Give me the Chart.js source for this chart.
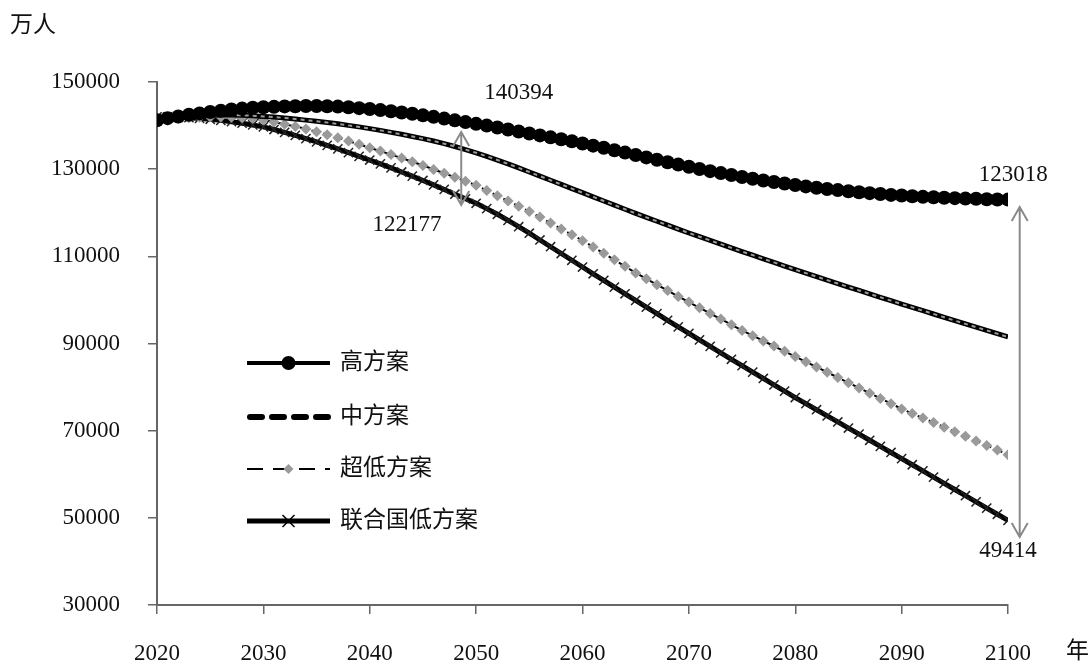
<!DOCTYPE html>
<html>
<head>
<meta charset="utf-8">
<script src="https://cdn.jsdelivr.net/npm/chart.js@4"></script>
<style>
  html, body { margin: 0; padding: 0; background: #fff; }
  #wrap { width: 1092px; height: 664px; }
</style>
</head>
<body>
<div id="wrap"><canvas id="chart" width="1092" height="664"></canvas></div>
<script>
// 人口预测 2020-2100，单位：万人
const years = [2020,2021,2022,2023,2024,2025,2026,2027,2028,2029,
  2030,2031,2032,2033,2034,2035,2036,2037,2038,2039,
  2040,2041,2042,2043,2044,2045,2046,2047,2048,2049,
  2050,2051,2052,2053,2054,2055,2056,2057,2058,2059,
  2060,2061,2062,2063,2064,2065,2066,2067,2068,2069,
  2070,2071,2072,2073,2074,2075,2076,2077,2078,2079,
  2080,2081,2082,2083,2084,2085,2086,2087,2088,2089,
  2090,2091,2092,2093,2094,2095,2096,2097,2098,2099,
  2100];

const seriesNames = ['高方案', '中方案', '超低方案', '联合国低方案'];

const high = [141200,141700,142100,142500,142800,143100,143400,143700,143900,144100,
  144200,144300,144400,144450,144500,144500,144450,144350,144200,144000,
  143800,143550,143300,143000,142700,142350,142000,141600,141200,140800,
  140394,140000,139550,139100,138650,138200,137750,137300,136850,136400,
  135900,135400,134900,134350,133800,133250,132700,132150,131600,131050,
  130550,130050,129550,129100,128650,128200,127800,127400,127050,126700,
  126350,126050,125750,125450,125200,124950,124700,124500,124300,124100,
  123950,123800,123650,123550,123450,123350,123250,123200,123100,123050,
  123018];

const mid = [141200,141600,141900,142100,142250,142350,142400,142400,142350,142250,
  142100,141950,141750,141500,141250,141000,140700,140400,140050,139700,
  139300,138900,138450,138000,137500,137000,136450,135850,135200,134500,
  133750,132950,132100,131200,130300,129350,128400,127450,126500,125550,
  124600,123650,122700,121750,120800,119850,118950,118050,117150,116250,
  115350,114500,113650,112800,111950,111100,110270,109440,108610,107780,
  106950,106150,105350,104550,103750,102950,102170,101390,100610,99830,
  99050,98290,97530,96770,96010,95250,94500,93750,93000,92250,
  91500];

const ultraLow = [141000,141300,141600,141800,141900,141950,141950,141900,141800,141600,
  141300,140800,140300,139800,139200,138600,137900,137200,136450,135700,
  134900,134150,133350,132550,131700,130850,129950,129050,128150,127250,
  126300,125100,123900,122700,121500,120300,119000,117650,116300,114950,
  113600,112150,110700,109200,107700,106200,104850,103500,102150,100800,
  99500,98200,96900,95600,94300,93000,91800,90600,89400,88200,
  87000,85800,84600,83400,82200,81000,79800,78600,77400,76200,
  75000,73950,72900,71850,70800,69750,68700,67650,66600,65550,
  64500];

const unLow = [142000,142000,141900,141800,141650,141450,141200,140900,140550,140150,
  139700,139100,138450,137750,137000,136250,135450,134650,133800,132950,
  132100,131200,130300,129350,128400,127400,126400,125350,124250,123200,
  122177,120950,119650,118250,116800,115300,113750,112200,110650,109100,
  107550,106000,104470,102940,101410,99880,98360,96840,95320,93800,
  92300,90820,89340,87860,86380,84900,83440,81980,80520,79060,
  77600,76200,74800,73400,72000,70600,69200,67800,66400,65000,
  63600,62180,60760,59340,57920,56500,55080,53660,52240,50820,
  49414];

// 标注（数据坐标）
const noteTexts = ['140394', '122177', '123018', '49414'];
const noteYears = [2054, 2043.5, 2100.5, 2100];
const noteValues = [147500, 117200, 128700, 42400];

const arrowYears = [2048.6, 2101.1];
const arrowTops = [138500, 121300];
const arrowBottoms = [121800, 45600];

const FONT = '"Liberation Serif", "Noto Sans CJK SC", serif';

function pts(vals) {
  return years.map((y, i) => ({ x: y, y: vals[i] }));
}

const extras = {
  id: 'extras',
  afterDatasetsDraw(chart) {
    const ctx = chart.ctx;
    const xs = chart.scales.x, ys = chart.scales.y;
    ctx.save();

    // double arrows
    ctx.strokeStyle = '#8a8a8a';
    ctx.lineWidth = 2;
    arrowYears.forEach((yr, i) => {
      const x = xs.getPixelForValue(yr);
      const t = ys.getPixelForValue(arrowTops[i]);
      const b = ys.getPixelForValue(arrowBottoms[i]);
      ctx.beginPath();
      ctx.moveTo(x, t); ctx.lineTo(x, b);
      ctx.moveTo(x - 8, t + 14); ctx.lineTo(x, t); ctx.lineTo(x + 8, t + 14);
      ctx.moveTo(x - 8, b - 14); ctx.lineTo(x, b); ctx.lineTo(x + 8, b - 14);
      ctx.stroke();
    });

    // value labels
    ctx.fillStyle = '#111';
    ctx.font = '23px ' + FONT;
    ctx.textAlign = 'center';
    ctx.textBaseline = 'middle';
    noteTexts.forEach((t, i) => {
      ctx.fillText(t, xs.getPixelForValue(noteYears[i]), ys.getPixelForValue(noteValues[i]));
    });

    // legend inside plot
    const lx0 = 247, lx1 = 330, rows = [363, 417, 469, 521];
    const mx = (lx0 + lx1) / 2;
    ctx.strokeStyle = '#000';
    ctx.lineCap = 'butt';

    ctx.lineWidth = 4;
    ctx.beginPath(); ctx.moveTo(lx0, rows[0]); ctx.lineTo(lx1, rows[0]); ctx.stroke();
    ctx.fillStyle = '#000';
    ctx.beginPath(); ctx.arc(mx, rows[0], 7, 0, Math.PI * 2); ctx.fill();

    ctx.lineWidth = 6;
    ctx.lineCap = 'round';
    ctx.setLineDash([12, 10]);
    ctx.beginPath(); ctx.moveTo(lx0 + 3, rows[1]); ctx.lineTo(lx1, rows[1]); ctx.stroke();

    ctx.lineWidth = 2;
    ctx.lineCap = 'butt';
    ctx.setLineDash([16, 10]);
    ctx.beginPath(); ctx.moveTo(lx0, rows[2]); ctx.lineTo(lx1, rows[2]); ctx.stroke();
    ctx.setLineDash([]);
    ctx.fillStyle = '#9a9a9a';
    ctx.beginPath();
    ctx.moveTo(mx, rows[2] - 5); ctx.lineTo(mx + 5, rows[2]);
    ctx.lineTo(mx, rows[2] + 5); ctx.lineTo(mx - 5, rows[2]);
    ctx.closePath(); ctx.fill();

    ctx.lineWidth = 5;
    ctx.beginPath(); ctx.moveTo(lx0, rows[3]); ctx.lineTo(lx1, rows[3]); ctx.stroke();
    ctx.lineWidth = 1.5;
    ctx.beginPath();
    ctx.moveTo(mx - 6, rows[3] - 6); ctx.lineTo(mx + 6, rows[3] + 6);
    ctx.moveTo(mx + 6, rows[3] - 6); ctx.lineTo(mx - 6, rows[3] + 6);
    ctx.stroke();

    ctx.fillStyle = '#111';
    ctx.font = '23px ' + FONT;
    ctx.textAlign = 'left';
    ctx.textBaseline = 'middle';
    seriesNames.forEach((n, i) => ctx.fillText(n, 340, rows[i]));

    // axis titles
    ctx.fillText('万人', 10, 26);
    ctx.fillText('年', 1066, 652);
    ctx.restore();
  }
};

new Chart(document.getElementById('chart').getContext('2d'), {
  type: 'line',
  data: {
    datasets: [
      {
        label: seriesNames[0], data: pts(high), order: 1,
        borderColor: '#000', borderWidth: 4, backgroundColor: '#000',
        pointStyle: 'circle', pointRadius: 7, pointBorderWidth: 0,
        pointBackgroundColor: '#000'
      },
      {
        label: seriesNames[1], data: pts(mid), order: 3,
        borderColor: '#000', borderWidth: 5, pointRadius: 0
      },
      {
        label: seriesNames[1], data: pts(mid), order: 2,
        borderColor: '#9a9a9a', borderWidth: 2, borderDash: [4, 4], pointRadius: 0
      },
      {
        label: seriesNames[2], data: pts(ultraLow), order: 4,
        borderColor: '#000', borderWidth: 2, borderDash: [8, 4],
        pointStyle: 'rectRot', pointRadius: 5.5, pointBorderWidth: 0,
        pointBackgroundColor: '#9a9a9a'
      },
      {
        label: seriesNames[3], data: pts(unLow), order: 5,
        borderColor: '#000', borderWidth: 5,
        pointStyle: 'crossRot', pointRadius: 6.5, pointBorderWidth: 1.5,
        pointBorderColor: '#222'
      }
    ]
  },
  options: {
    responsive: false,
    animation: false,
    devicePixelRatio: 1,
    layout: { padding: { top: 82, right: 84, left: 0, bottom: 0 } },
    plugins: { legend: { display: false }, tooltip: { enabled: false } },
    elements: { line: { tension: 0 } },
    scales: {
      x: {
        type: 'linear', min: 2020, max: 2100,
        afterFit(s) { s.height = 59; },
        ticks: {
          stepSize: 10, color: '#111', padding: 26,
          font: { family: FONT, size: 23 },
          callback: v => String(v)
        },
        grid: { drawOnChartArea: false, drawTicks: true, tickLength: 9, color: '#666', lineWidth: 1.5 },
        border: { display: true, color: '#666', width: 2 }
      },
      y: {
        min: 30000, max: 150000,
        afterFit(s) { s.width = 157; },
        ticks: {
          stepSize: 20000, color: '#111', padding: 28,
          font: { family: FONT, size: 23 },
          callback: v => String(v)
        },
        grid: { drawOnChartArea: false, drawTicks: true, tickLength: 9, color: '#666', lineWidth: 1.5 },
        border: { display: true, color: '#666', width: 2 }
      }
    }
  },
  plugins: [extras]
});
</script>
</body>
</html>
